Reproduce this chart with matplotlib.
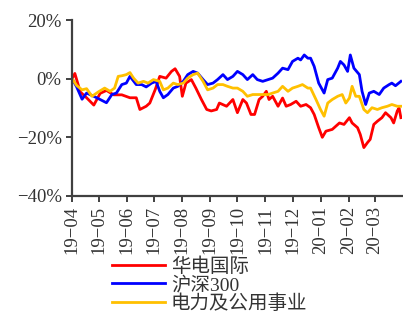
import numpy as np
import pandas as pd
import matplotlib
matplotlib.use('Agg')
import matplotlib.pyplot as plt
import matplotlib.dates as mdates
from matplotlib.ticker import FuncFormatter

# 数据：距 2019-04-01 的天数, 累计涨跌幅(%)
red_days = [0, 3, 9, 16, 24, 31, 38, 46, 55, 64, 71, 75, 82, 86, 92, 97, 104, 110, 114, 119,
            122, 126, 132, 137, 143, 149, 154, 160, 163, 171, 178, 183, 189, 193, 198, 202, 207,
            211, 215, 218, 222, 228, 233, 237, 242, 248, 253, 259, 264, 268, 273, 277, 281, 288,
            296, 301, 307, 310, 316, 319, 323, 327, 330, 334, 338, 343, 347, 353, 356, 360, 362, 364]
red_vals = [0.0, 1.8, -4.5, -6.5, -9.0, -5.0, -4.0, -5.5, -5.5, -6.5, -6.5, -10.5, -9.4, -8.3,
            -3.7, 0.8, 0.2, 2.5, 3.4, 0.8, -6.0, -1.5, -0.3, -3.2, -7.0, -10.5, -11.0, -10.5, -8.3,
            -9.4, -7.1, -11.6, -7.1, -8.3, -12.2, -12.2, -7.1, -6.0, -4.3, -7.1, -6.0, -9.4, -6.6,
            -9.4, -8.8, -7.7, -9.4, -8.8, -9.9, -12.2, -16.7, -20.0, -17.9, -17.3, -15.1, -15.6,
            -13.3, -15.1, -16.7, -19.0, -23.5, -21.8, -20.7, -15.6, -14.5, -13.3, -11.6, -13.3,
            -15.1, -11.0, -10.0, -13.3]

blue_days = [0, 5, 11, 16, 24, 31, 38, 44, 49, 55, 60, 64, 71, 77, 82, 88, 93, 97, 101, 106,
             112, 117, 123, 128, 134, 139, 145, 150, 156, 161, 167, 172, 178, 183, 189, 194, 200,
             205, 211, 217, 222, 228, 233, 239, 244, 250, 253, 257, 261, 264, 268, 273, 279, 283,
             288, 294, 297, 301, 305, 308, 312, 318, 321, 325, 329, 334, 340, 345, 351, 354, 358, 364]
blue_vals = [0.0, -2.8, -7.0, -4.9, -6.0, -7.1, -8.2, -5.4, -4.9, -2.0, -1.5, 0.8, -2.0, -2.0,
             -2.8, -1.5, -0.9, -4.3, -6.5, -5.4, -3.2, -2.6, -0.9, 1.4, 2.5, 1.9, -0.3, -2.0, -1.5,
             -0.3, 1.4, -0.3, 0.8, 2.5, 1.4, -0.3, 1.4, -0.3, -0.9, -0.3, 0.2, 1.9, 3.6, 3.1, 5.9,
             7.0, 6.4, 8.1, 7.0, 7.0, 4.2, -1.5, -4.9, -0.3, 0.2, 3.6, 5.9, 4.7, 2.5, 8.1, 3.6, 1.4,
             -4.3, -8.8, -4.9, -4.3, -5.4, -3.2, -2.0, -1.5, -2.4, -0.9]

yel_days = [0, 5, 11, 16, 22, 29, 36, 42, 47, 51, 55, 60, 64, 68, 73, 79, 84, 90, 97, 101, 106,
            112, 117, 123, 128, 134, 139, 145, 150, 156, 161, 167, 172, 178, 183, 189, 194, 200,
            205, 211, 217, 222, 228, 233, 239, 244, 250, 255, 261, 264, 270, 275, 279, 283, 288,
            294, 299, 303, 307, 310, 314, 318, 323, 327, 332, 338, 343, 349, 354, 360, 364]
yel_vals = [0.0, -2.3, -3.8, -3.4, -6.0, -4.5, -3.2, -4.3, -3.2, 0.8, 1.0, 1.4, 2.1, 0.2, -1.5,
            -0.9, -1.5, -0.3, -0.9, -3.8, -3.2, -1.5, -2.0, -1.5, 0.2, 1.4, 1.9, -0.9, -3.8, -3.2,
            -2.0, -2.0, -2.6, -3.2, -3.2, -4.3, -6.0, -5.4, -5.4, -5.4, -5.4, -4.9, -4.3, -2.6,
            -4.3, -3.2, -2.6, -2.0, -3.2, -3.2, -7.1, -10.5, -12.8, -8.3, -7.1, -6.0, -5.4, -8.3,
            -6.6, -2.6, -6.0, -6.0, -10.5, -11.6, -9.9, -10.5, -9.9, -9.4, -8.8, -9.4, -9.4]

names = ['华电国际', '沪深300', '电力及公用事业']
colors = ['#FF0000', '#0000FF', '#FFC000']

start = pd.Timestamp('2019-04-01')
tick_months = pd.date_range('2019-04-01', '2020-03-01', freq='MS')

fig = plt.figure(figsize=(4.03, 3.14), dpi=100)
ax = fig.add_axes([0.179, 0.376, 0.818, 0.56])

for d, v, c, n in zip([red_days, blue_days, yel_days], [red_vals, blue_vals, yel_vals], colors, names):
    x = start + pd.to_timedelta(d, unit='D')
    ax.plot(x, v, color=c, lw=2, label=n)

ax.set_ylim(-40, 20)
ax.set_yticks([-40, -20, 0, 20])
ax.yaxis.set_major_formatter(FuncFormatter(lambda v, p: ('%d%%' % v).replace('-', '\u2212')))
ax.set_xlim(start, start + pd.Timedelta(days=365))
ax.set_xticks(tick_months)
ax.xaxis.set_major_formatter(mdates.DateFormatter('%y\u2212%m'))

for s in ['top', 'right']:
    ax.spines[s].set_visible(False)
for s in ['left', 'bottom']:
    ax.spines[s].set_color('#404040')
    ax.spines[s].set_linewidth(1.6)
ax.tick_params(colors='#404040', width=1.4, length=4, labelcolor='#333333')
for lab in ax.get_yticklabels():
    lab.set_family('Liberation Serif')
    lab.set_fontsize(13.5)
for lab in ax.get_xticklabels():
    lab.set_family('Liberation Serif')
    lab.set_fontsize(13.5)
    lab.set_rotation(90)

fig.legend(loc='upper left', bbox_to_anchor=(0.255, 0.21), frameon=False,
           prop={'family': ['Liberation Serif', 'Noto Sans CJK SC'], 'size': 14},
           handlelength=2.7, handletextpad=0.3, labelspacing=0.0, borderpad=0,
           labelcolor='#333333')

fig.savefig('out.png', dpi=100)
